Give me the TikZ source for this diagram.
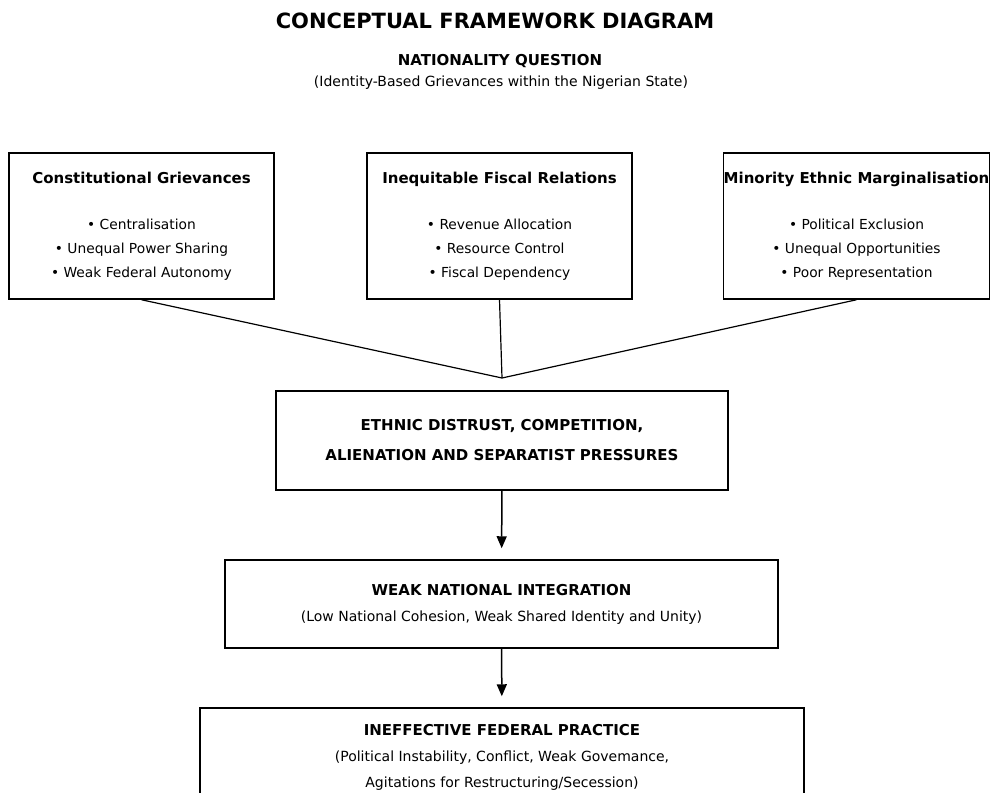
\documentclass[tikz,border=0pt]{standalone}
\usepackage{fontspec}
\setmainfont{DejaVu Sans}
\usetikzlibrary{arrows.meta}

\tikzset{
  causebox/.style={draw, line width=1.5pt, inner sep=0pt, align=center,
    minimum width=265pt, minimum height=146pt, font=\fontsize{13.8}{24}\selectfont},
  flowbox/.style={draw, line width=1.5pt, inner sep=0pt, align=center},
  feed/.style={line width=1.2pt},
  flow/.style={line width=1.5pt, -{Triangle[length=12pt,width=10pt]}, shorten >=11pt}
}
\newcommand{\boxhead}[1]{{\fontsize{15}{24}\selectfont\bfseries #1}}

\begin{document}
\begin{tikzpicture}[x=1pt, y=-1pt]
        \useasboundingbox (0,0) rectangle (992,792);
        \clip (0,0) rectangle (992,792);

        % heading
        \node[font=\fontsize{21}{24}\selectfont\bfseries] (title) at (495,21) {CONCEPTUAL FRAMEWORK DIAGRAM};
        \node[font=\fontsize{15}{18}\selectfont\bfseries] (natq) at (500,61) {NATIONALITY QUESTION};
        \node[font=\fontsize{14}{16}\selectfont] (natsub) at (501,83) {(Identity-Based Grievances within the Nigerian State)};

        % the three sources
        \node[causebox] (constit) at (141.5,226) {\boxhead{Constitutional Grievances}\\[22pt] • Centralisation\\ • Unequal Power Sharing\\ • Weak Federal Autonomy};
        \node[causebox] (fiscal) at (499.5,226) {\boxhead{Inequitable Fiscal Relations}\\[22pt] • Revenue Allocation\\ • Resource Control\\ • Fiscal Dependency};
        \node[causebox] (minority) at (856.5,226) {\boxhead{Minority Ethnic Marginalisation}\\[22pt] • Political Exclusion\\ • Unequal Opportunities\\ • Poor Representation};

        \coordinate (join) at (502,378);
        \draw[feed] (constit.south) -- (join);
        \draw[feed] (fiscal.south) -- (join);
        \draw[feed] (minority.south) -- (join);

        % outcomes
        \node[flowbox, minimum width=452pt, minimum height=99pt, font=\fontsize{15}{30}\selectfont\bfseries] (ethnic) at (502,440.5) {ETHNIC DISTRUST, COMPETITION,\\ ALIENATION AND SEPARATIST PRESSURES};
        \node[flowbox, minimum width=553pt, minimum height=88pt, font=\fontsize{14}{26}\selectfont] (weak) at (501.5,604) {{\fontsize{15}{26}\selectfont\bfseries WEAK NATIONAL INTEGRATION}\\ (Low National Cohesion, Weak Shared Identity and Unity)};
        \node[flowbox, minimum width=604pt, minimum height=98pt, font=\fontsize{14}{26}\selectfont] (ineff) at (502,757) {{\fontsize{15}{26}\selectfont\bfseries INEFFECTIVE FEDERAL PRACTICE}\\ (Political Instability, Conflict, Weak Govemance,\\ Agitations for Restructuring/Secession)};

        \draw[flow] (ethnic) -- (weak);
        \draw[flow] (weak) -- (ineff);
\end{tikzpicture}
\end{document}
